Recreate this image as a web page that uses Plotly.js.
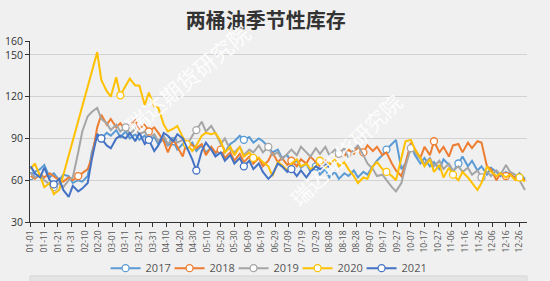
<!DOCTYPE html>
<html>
<head>
<meta charset="utf-8">
<script src="https://cdn.plot.ly/plotly-3.0.1.min.js"></script>
<style>
html,body{margin:0;padding:0;background:#f0f0f0;}
#chart{width:550px;height:281px;}
</style>
</head>
<body>
<div id="chart"></div>
<script>
// Tick labels on the x axis (day of a leap-year calendar, every 10 days)
const tickLabels = ["01-01","01-11","01-21","01-31","02-10","02-20","03-01","03-11","03-21","03-31",
  "04-10","04-20","04-30","05-10","05-20","05-30","06-09","06-19","06-29","07-09","07-19","07-29",
  "08-08","08-18","08-28","09-07","09-17","09-27","10-07","10-17","10-27","11-06","11-16","11-26",
  "12-06","12-16","12-26"];
const yTicks = [30, 60, 90, 120, 150, 160];

// Sampling dates (twice weekly)
const sampleDates = [
 "01-01","01-04","01-08","01-11","01-15","01-18","01-22","01-25","01-29","02-01",
 "02-05","02-08","02-12","02-15","02-19","02-22","02-26","02-29","03-04","03-07",
 "03-11","03-14","03-18","03-21","03-25","03-28","04-01","04-04","04-08","04-11",
 "04-15","04-18","04-22","04-25","04-29","05-02","05-06","05-09","05-13","05-16",
 "05-20","05-23","05-27","05-30","06-03","06-06","06-10","06-13","06-17","06-20",
 "06-24","06-27","07-01","07-04","07-08","07-11","07-15","07-18","07-22","07-25",
 "07-29","08-01","08-05","08-08","08-12","08-15","08-19","08-22","08-26","08-29",
 "09-02","09-05","09-09","09-12","09-16","09-19","09-23","09-26","09-30","10-03",
 "10-07","10-10","10-14","10-17","10-21","10-24","10-28","10-31","11-04","11-07",
 "11-11","11-14","11-18","11-21","11-25","11-28","12-02","12-05","12-09","12-12",
 "12-16","12-19","12-23","12-26","12-30"];

const seriesNames = ["2017","2018","2019","2020","2021"];
const seriesColors = ["#5b9bd5","#ed7d31","#a5a5a5","#ffc000","#4472c4"];

const y2017 = [
 63,66,68,71,62,65,60,64,63,58,
 60,59,63,80,93,90,94,92,96,91,
 95,90,93,89,92,88,91,86,90,85,
 88,82,86,83,87,81,85,80,83,79,
 84,80,86,88,92,89,91,87,90,88,
 84,80,82,76,78,72,74,69,72,66,
 70,64,68,62,66,61,65,63,67,62,
 66,64,70,74,78,82,86,89,68,72,
 85,78,72,76,70,73,68,75,71,66,
 72,77,70,74,67,70,64,69,66,63,
 66,64,62,65,61];
const y2018 = [
 63,61,64,62,65,63,60,59,62,60,
 63,65,68,76,98,107,100,104,98,101,
 96,99,103,97,100,95,98,94,88,80,
 89,84,77,88,85,83,86,78,84,80,
 82,76,80,74,79,73,77,72,76,70,
 74,80,73,76,71,74,70,75,72,77,
 73,70,74,71,76,80,77,82,79,84,
 80,85,81,84,78,80,72,67,63,72,
 87,82,76,84,78,88,80,84,77,85,
 86,80,87,83,88,87,70,68,60,65,
 63,65,61,63,60];
const y2019 = [
 65,62,64,60,57,55,58,55,60,62,
 80,95,106,109,112,104,101,96,100,95,
 98,93,97,93,95,90,93,88,92,86,
 90,87,89,85,92,96,102,95,99,94,
 86,90,82,80,84,78,82,80,85,80,
 84,78,80,75,79,82,78,84,80,77,
 83,79,84,78,82,79,83,76,82,85,
 78,72,68,63,64,60,55,52,58,70,
 83,80,75,72,76,70,74,68,72,67,
 70,66,69,64,67,62,66,63,67,64,
 71,66,64,60,53];
const y2020 = [
 68,72,63,55,58,50,53,null,null,null,
 null,null,null,null,152,132,124,120,134,121,
 128,133,128,128,114,123,113,112,100,95,
 97,99,91,86,81,85,92,94,93,94,
 88,80,84,78,84,77,80,76,76,73,
 70,63,73,71,67,72,75,70,72,68,
 70,74,69,72,76,70,73,68,63,58,
 62,61,70,73,68,66,63,60,75,88,
 89,82,76,70,75,66,71,62,69,64,
 60,66,62,58,53,58,70,66,63,65,
 62,64,60,62,59];
const y2021 = [
 70,65,62,69,60,57,61,53,48,56,
 52,54,58,75,93,90,85,83,90,92,
 90,94,88,94,86,89,81,85,94,92,
 88,93,90,84,75,67,81,87,82,77,
 80,74,78,72,76,70,74,68,72,66,
 61,64,72,70,66,68,63,67,62,66,
 70,68,72,69];

const seriesValues = [y2017, y2018, y2019, y2020, y2021];

// full leap-year calendar for the category axis
const monthDays = [31,29,31,30,31,30,31,31,30,31,30,31];
const calendar = [];
for (let m = 0; m < 12; m++) {
  for (let d = 1; d <= monthDays[m]; d++) {
    calendar.push(String(m+1).padStart(2,"0") + "-" + String(d).padStart(2,"0"));
  }
}

const traces = seriesNames.map((name, i) => ({
  type: "scatter",
  mode: "lines+markers",
  name: name,
  x: sampleDates.slice(0, seriesValues[i].length),
  y: seriesValues[i],
  connectgaps: true,
  line: {color: seriesColors[i], width: 2},
  marker: {symbol: "circle", size: 7, color: "#ffffff", maxdisplayed: 7,
           line: {color: seriesColors[i], width: 1.3}},
  hoverinfo: "skip"
}));

const font = "'Open Sans', 'Noto Sans CJK SC', sans-serif";

const layout = {
  width: 550, height: 281,
  paper_bgcolor: "#f0f0f0",
  plot_bgcolor: "#f0f0f0",
  margin: {l: 30, r: 23, t: 41, b: 59, autoexpand: false},
  showlegend: true,
  title: {
    text: "<b>两桶油季节性库存</b>",
    font: {family: "'Noto Sans CJK SC', sans-serif", size: 20, color: "#333333"},
    x: 0.483, xanchor: "center", xref: "container",
    y: 0.925, yanchor: "middle"
  },
  xaxis: {
    type: "category",
    categoryorder: "array",
    categoryarray: calendar,
    range: [-0.5, calendar.length - 0.5],
    tickmode: "array",
    tickvals: tickLabels,
    ticktext: tickLabels,
    tickangle: -90,
    tickfont: {family: font, size: 8.5, color: "#555555"},
    ticks: "outside", ticklen: 4, tickcolor: "#333333",
    showline: true, linecolor: "#333333", linewidth: 1,
    showgrid: false, zeroline: false, automargin: false, fixedrange: true
  },
  yaxis: {
    range: [30, 160],
    tickmode: "array",
    tickvals: yTicks,
    tickfont: {family: font, size: 10.5, color: "#333333"},
    ticks: "outside", ticklen: 4, tickcolor: "#333333",
    showline: true, linecolor: "#333333", linewidth: 1,
    showgrid: true, gridcolor: "#d2d2d2", gridwidth: 1,
    zeroline: false, automargin: false, fixedrange: true
  },
  legend: {
    orientation: "h",
    x: 0.474, xanchor: "center",
    y: -0.255, yanchor: "middle",
    font: {family: font, size: 11, color: "#555555"},
    bgcolor: "rgba(0,0,0,0)",
    itemwidth: 30,
    entrywidth: 19, entrywidthmode: "pixels"
  },
  annotations: [
    {text: "瑞达期货研究院", xref: "paper", yref: "paper", x: 0.316, y: 0.796,
     xanchor: "center", yanchor: "middle",
     showarrow: false, textangle: -40, opacity: 0.9,
     font: {family: "'Noto Sans CJK SC', sans-serif", size: 22, color: "#ffffff"}},
    {text: "瑞达期货研究院", xref: "paper", yref: "paper", x: 0.634, y: 0.398,
     xanchor: "center", yanchor: "middle",
     showarrow: false, textangle: -45, opacity: 0.9,
     font: {family: "'Noto Sans CJK SC', sans-serif", size: 21, color: "#ffffff"}}
  ],
  shapes: [
    {type: "rect", xref: "paper", yref: "paper", x0: 0, x1: 1, y0: -0.33, y1: -0.298,
     fillcolor: "#e4e4e4", line: {color: "#d6d6d6", width: 1}, layer: "below"}
  ]
};

Plotly.newPlot("chart", traces, layout, {displayModeBar: false, staticPlot: true});
</script>
</body>
</html>
